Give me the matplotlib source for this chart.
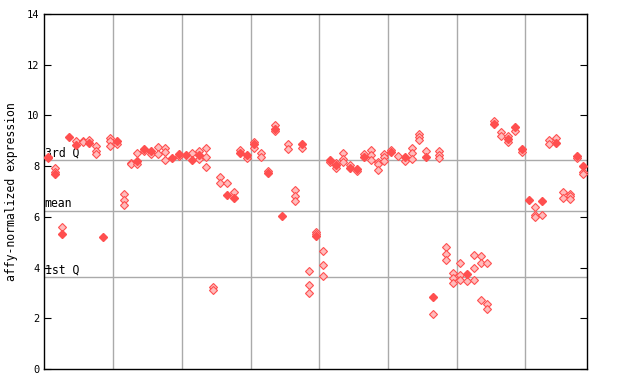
import matplotlib
matplotlib.use("Agg")
import matplotlib.pyplot as plt
import numpy as np

# per-sample replicate values (open markers) and the highlighted value (filled marker)
open_vals = [
    [8.30], [7.91, 7.76], [5.58], [], [8.99], [9.00, 8.93], [9.02], [8.79, 8.59, 8.47],
    [], [9.10, 9.00, 8.79], [8.85], [6.88, 6.65, 6.46], [8.14, 8.08], [8.50, 8.09],
    [8.58], [8.47], [8.76, 8.47], [8.71, 8.56, 8.22], [], [8.40], [], [8.50],
    [8.59, 8.27], [8.71, 8.35, 7.96], [3.22, 3.11], [7.55, 7.32], [7.33], [6.96],
    [8.63], [8.30], [8.93, 8.72], [8.50, 8.37], [7.80], [9.60, 9.38], [], [8.87, 8.68],
    [7.05, 6.82, 6.61], [8.70], [3.85, 3.30, 2.98], [5.41, 5.33], [4.64, 4.09, 3.65],
    [8.16], [8.14, 7.91], [8.50, 8.27, 8.17], [8.03], [7.80], [8.46],
    [8.63, 8.43, 8.24], [8.16, 8.10, 7.83], [8.47, 8.37, 8.18], [8.63], [8.40],
    [8.18], [8.71, 8.50, 8.29], [9.25, 9.13, 9.01], [8.58], [2.16],
    [8.58, 8.42, 8.30], [4.81, 4.52, 4.28], [3.77, 3.57, 3.40], [4.16, 3.69, 3.49],
    [3.46], [4.48, 4.00, 3.49], [4.45, 4.16, 2.74], [4.16, 2.56, 2.35], [9.78],
    [9.36, 9.18], [9.18, 8.94], [9.39], [8.56], [], [6.37, 6.06, 5.98], [6.06],
    [9.02, 8.85], [9.09], [6.96, 6.75], [6.88, 6.80, 6.69], [8.33], [7.77, 7.70],
]
filled_vals = [
    8.37, 7.68, 5.32, 9.15, 8.82, None, 8.92, None, 5.20, None, 8.98, None, None, 8.20,
    8.68, 8.60, None, None, 8.33, 8.47, 8.43, 8.24, 8.42, None, None, None, 6.87, 6.75,
    8.52, 8.43, 8.86, None, 7.71, 9.47, 6.05, None, None, 8.85, None, 5.24, None,
    8.24, 8.04, None, 7.93, 7.88, 8.37, None, None, None, 8.56, None, 8.35, None,
    None, 8.37, 2.85, None, None, None, None, 3.76, None, None, None, 9.65, None,
    9.05, 9.55, 8.68, 6.66, None, 6.63, None, 8.92, None, None, 8.40, 7.99,
]
q1, mean, q3 = 3.62, 6.23, 8.22
group_size = 10

red = "#ff4f4f"
plt.rcParams["font.family"] = "DejaVu Sans Mono"

fig = plt.figure(figsize=(6.4, 3.84), dpi=100)
ax = fig.add_axes([0.069, 0.039, 0.848, 0.925])

n = len(open_vals)
ox = [i for i, vs in enumerate(open_vals) for _ in vs]
oy = [v for vs in open_vals for v in vs]
fx = [i for i, v in enumerate(filled_vals) if v is not None]
fy = [v for v in filled_vals if v is not None]

# group separators and quartile lines
for b in np.arange(group_size, n, group_size) - 0.5:
    ax.axvline(b, color="#aaaaaa", lw=1, zorder=1)
for val, lab in [(q3, "3rd Q"), (mean, "mean"), (q1, "1st Q")]:
    ax.axhline(val, color="#aaaaaa", lw=1, zorder=1)
    ax.text(-0.5, val + 0.02, lab, fontsize=8.3, va="bottom", ha="left", zorder=2)

ax.plot(ox, oy, ls="none", marker="D", ms=4, mfc="#ffbcbc", mec=red, mew=0.8, zorder=3)
ax.plot(fx, fy, ls="none", marker="D", ms=4.5, mfc=red, mec=red, zorder=4)

ax.set_xlim(-0.6, n - 0.5)
ax.set_ylim(0, 14)
ax.set_xticks([])
ax.set_yticks(range(0, 15, 2))
ax.tick_params(axis="y", direction="in", length=5, labelsize=7.5, right=True)
ax.set_ylabel("affy-normalized expression", fontsize=8.3, labelpad=6)
for s in ax.spines.values():
    s.set_linewidth(1)

fig.savefig("out.png", dpi=100)
